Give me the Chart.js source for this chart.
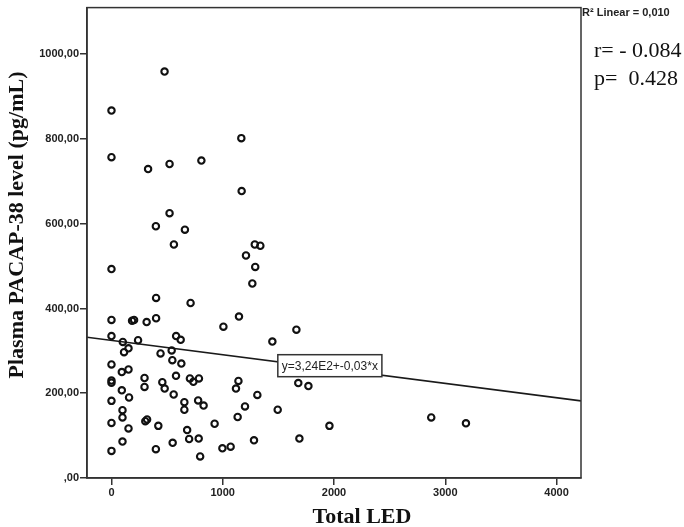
<!DOCTYPE html>
<html><head><meta charset="utf-8">
<script src="https://cdn.jsdelivr.net/npm/chart.js@4/dist/chart.umd.min.js"></script>
<style>html,body{margin:0;padding:0;background:#fff}#wrap{width:684px;height:527px}</style>
</head><body><div id="wrap"><canvas id="c" width="684" height="527"></canvas></div>
<script>
const ledValues = [477,0,0,329,522,808,1167,1170,522,399,660,561,1288,1338,1209,1292,1266,0,401,711,
  0,185,203,316,401,1006,1146,1662,1446,0,102,239,581,622,113,153,441,541,547,628,
  0,93,153,580,0,0,297,297,457,478,559,93,158,0,705,736,786,655,655,779,
  828,1141,1119,1311,1200,1494,1134,1679,1770,99,99,153,0,304,320,421,927,1959,680,698,
  784,99,550,1281,1689,997,1071,399,0,797,2874,3186];
const pacapValues = [959,867,757,729,741,749,802,677,625,594,586,551,551,548,525,498,459,493,425,413,
  373,371,373,368,377,357,381,350,322,335,321,325,335,326,297,306,294,301,278,270,
  268,250,256,241,230,225,236,215,226,211,197,207,190,182,235,227,235,179,161,183,
  171,229,211,196,169,161,144,224,217,160,143,117,130,134,138,123,128,123,113,92,
  93,86,83,89,93,70,74,68,64,51,143,129];
const fitX = [-220, 4220];
const fitY = [332, 182];
const xTickValues = [0, 1000, 2000, 3000, 4000];
const xTickLabels = ['0', '1000', '2000', '3000', '4000'];
const yTickValues = [0, 200, 400, 600, 800, 1000];
const yTickLabels = [',00', '200,00', '400,00', '600,00', '800,00', '1000,00'];
const xTitle = 'Total LED';
const yTitle = 'Plasma PACAP-38 level (pg/mL)';
const r2Label = 'R² Linear = 0,010';
const statLines = ['r= - 0.084', 'p=  0.428'];
const equationLabel = 'y=3,24E2+-0,03*x';

const INK = '#222';

const decor = {
  id: 'decor',
  afterDatasetsDraw(chart) {
    const ctx = chart.ctx, a = chart.chartArea;
    const xs = chart.scales.x, ys = chart.scales.y;
    ctx.save();
    // frame
    ctx.strokeStyle = '#333';
    ctx.lineWidth = 1.5;
    ctx.strokeRect(a.left, a.top, a.right - a.left, a.bottom - a.top);
    // equation box
    ctx.font = '12px "Liberation Sans", Arial, sans-serif';
    const tw = ctx.measureText(equationLabel).width;
    const bx = xs.getPixelForValue(1495);
    const by = ys.getPixelForValue(265);
    const bw = tw + 8, bh = 22;
    ctx.fillStyle = '#fff';
    ctx.fillRect(bx, by - bh / 2, bw, bh);
    ctx.strokeStyle = '#333';
    ctx.lineWidth = 1.5;
    ctx.strokeRect(bx, by - bh / 2, bw, bh);
    ctx.fillStyle = INK;
    ctx.textBaseline = 'middle';
    ctx.textAlign = 'left';
    ctx.fillText(equationLabel, bx + 4, by + 1);
    // R2 label
    ctx.font = 'bold 11px "Liberation Sans", Arial, sans-serif';
    ctx.fillText(r2Label, a.right + 1, 13);
    // stats
    ctx.font = '22px "Liberation Serif", "Times New Roman", serif';
    ctx.fillStyle = '#111';
    ctx.fillText(statLines[0], 594, 51);
    ctx.fillText(statLines[1], 594, 79);
    // x title
    ctx.font = 'bold 22px "Liberation Serif", "Times New Roman", serif';
    ctx.textAlign = 'center';
    ctx.fillText(xTitle, 362, 517);
    // y title
    ctx.translate(17, 225);
    ctx.rotate(-Math.PI / 2);
    ctx.font = 'bold 22px "Liberation Serif", "Times New Roman", serif';
    ctx.fillText(yTitle, 0, 0);
    ctx.restore();
  }
};

const tickFont = { family: '"Liberation Sans", Arial, sans-serif', size: 11, weight: 'bold' };

new Chart(document.getElementById('c'), {
  type: 'scatter',
  data: {
    datasets: [
      {
        label: 'fit',
        type: 'line',
        data: fitX.map((x, i) => ({ x, y: fitY[i] })),
        borderColor: '#1a1a1a',
        borderWidth: 1.6,
        pointRadius: 0,
        fill: false,
        order: 2
      },
      {
        label: 'points',
        data: ledValues.map((x, i) => ({ x, y: pacapValues[i] })),
        pointStyle: 'circle',
        pointRadius: 3.2,
        borderWidth: 2.1,
        borderColor: '#111',
        backgroundColor: 'rgba(255,255,255,0)',
        order: 1
      }
    ]
  },
  options: {
    responsive: false,
    animation: false,
    devicePixelRatio: 1,
    layout: { padding: { left: 0, right: 103, top: 3, bottom: 0 } },
    plugins: { legend: { display: false }, tooltip: { enabled: false } },
    scales: {
      x: {
        type: 'linear',
        min: -220,
        max: 4220,
        afterBuildTicks: s => { s.ticks = xTickValues.map(v => ({ value: v })); },
        afterFit: s => { s.height = 49; },
        ticks: {
          autoSkip: false, maxRotation: 0, padding: 1,
          color: INK, font: tickFont,
          callback: v => xTickLabels[xTickValues.indexOf(v)]
        },
        grid: { drawOnChartArea: false, tickLength: 7, color: '#333', lineWidth: 1.5 },
        border: { display: true, color: '#333', width: 1.5 }
      },
      y: {
        type: 'linear',
        min: 0,
        max: 1110,
        afterBuildTicks: s => { s.ticks = yTickValues.map(v => ({ value: v })); },
        afterFit: s => { s.width = 87; },
        ticks: {
          autoSkip: false, padding: 1,
          color: INK, font: tickFont,
          callback: v => yTickLabels[yTickValues.indexOf(v)]
        },
        grid: { drawOnChartArea: false, tickLength: 7, color: '#333', lineWidth: 1.5 },
        border: { display: true, color: '#333', width: 1.5 }
      }
    }
  },
  plugins: [decor]
});
</script>
</body></html>
